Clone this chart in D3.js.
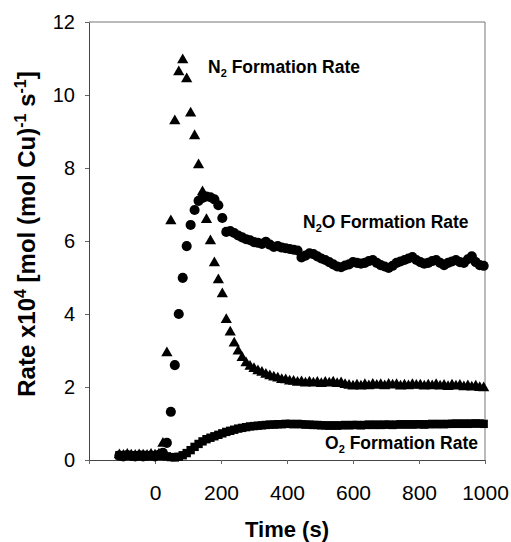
<!DOCTYPE html>
<html>
<head>
<meta charset="utf-8">
<script src="https://cdn.jsdelivr.net/npm/d3@7"></script>
<style>
  body { margin: 0; background: #fff; }
  text { font-family: "Liberation Sans", Arial, sans-serif; fill: #000; }
</style>
</head>
<body>
<div id="chart"></div>
<script>
// sample times (s), shared by the three series
const times = [-108, -96, -84, -72, -60, -48, -36, -24, -12, 0, 12, 24, 36, 48, 60, 72, 84, 96, 108, 120,
    132, 144, 156, 168, 180, 192, 204, 216, 228, 240, 252, 264, 276, 288, 300, 312, 324, 336, 348, 360,
    372, 384, 396, 408, 420, 432, 444, 456, 468, 480, 492, 504, 516, 528, 540, 552, 564, 576, 588, 600,
    612, 624, 636, 648, 660, 672, 684, 696, 708, 720, 732, 744, 756, 768, 780, 792, 804, 816, 828, 840,
    852, 864, 876, 888, 900, 912, 924, 936, 948, 960, 972, 984, 996];

// N2 formation rate (triangles)
const n2Rate = [0.14, 0.12, 0.15, 0.13, 0.12, 0.14, 0.13, 0.12, 0.15, 0.13, 0.16, 0.45, 2.93, 6.55, 9.29, 10.63, 10.96, 10.44, 9.5, 8.88,
    8.08, 7.34, 6.58, 6.0, 5.4, 4.93, 4.55, 3.84, 3.5, 3.2, 2.98, 2.8, 2.66, 2.56, 2.5, 2.44, 2.4, 2.34, 2.3, 2.27,
    2.24, 2.2, 2.19, 2.16, 2.15, 2.12, 2.14, 2.1, 2.13, 2.1, 2.12, 2.09, 2.12, 2.1, 2.13, 2.09, 2.11, 2.06, 2.04, 2.02,
    2.05, 2.02, 2.06, 2.03, 2.07, 2.04, 2.06, 2.03, 2.07, 2.05, 2.06, 2.02, 2.05, 2.03, 2.06, 2.04, 2.05, 2.02, 2.05, 2.03,
    2.06, 2.02, 2.04, 2.01, 2.05, 2.02, 2.04, 2.0, 2.03, 1.99, 2.02, 1.98, 1.97];

// N2O formation rate (circles)
const n2oRate = [0.12, 0.1, 0.13, 0.11, 0.1, 0.12, 0.1, 0.11, 0.12, 0.1, 0.14, 0.2, 0.47, 1.32, 2.6, 4.0, 4.99, 5.86, 6.44, 6.85,
    7.1, 7.18, 7.22, 7.2, 7.14, 6.98, 6.63, 6.25, 6.27, 6.22, 6.15, 6.1, 6.05, 6.02, 5.97, 5.95, 5.92, 5.98, 5.9, 5.84,
    5.86, 5.82, 5.8, 5.78, 5.76, 5.74, 5.55, 5.6, 5.66, 5.64, 5.58, 5.52, 5.48, 5.42, 5.36, 5.3, 5.28, 5.33, 5.36, 5.42,
    5.4, 5.38, 5.4, 5.45, 5.48, 5.4, 5.34, 5.3, 5.26, 5.32, 5.4, 5.44, 5.48, 5.52, 5.56, 5.48, 5.42, 5.38, 5.4, 5.45,
    5.48, 5.4, 5.34, 5.4, 5.44, 5.48, 5.42, 5.4, 5.5, 5.58, 5.42, 5.34, 5.32];

// O2 formation rate (squares)
const o2Rate = [0.13, 0.12, 0.14, 0.12, 0.13, 0.12, 0.14, 0.13, 0.12, 0.13, 0.12, 0.11, 0.1, 0.08, 0.07, 0.09, 0.13, 0.19, 0.27, 0.36,
    0.44, 0.51, 0.57, 0.61, 0.65, 0.69, 0.73, 0.77, 0.8, 0.83, 0.86, 0.88, 0.9, 0.92, 0.93, 0.94, 0.95, 0.96, 0.97, 0.97,
    0.98, 0.98, 0.99, 0.99, 0.98, 0.99, 0.98, 0.97, 0.97, 0.96, 0.96, 0.95, 0.95, 0.94, 0.95, 0.94, 0.95, 0.96, 0.95, 0.96,
    0.96, 0.95, 0.96, 0.97, 0.96, 0.97, 0.96, 0.97, 0.97, 0.96, 0.97, 0.98, 0.97, 0.98, 0.97, 0.98, 0.98, 0.97, 0.98, 0.99,
    0.98, 0.99, 0.98, 0.99, 0.99, 1.0, 0.99, 1.0, 0.99, 1.0, 1.0, 1.0, 0.99];

const xTicks = [-200, 0, 200, 400, 600, 800, 1000];
const yTicks = [0, 2, 4, 6, 8, 10, 12];

const width = 511, height = 542;
const plot = {left: 89, right: 485, top: 22, bottom: 460};

const svg = d3.select("#chart").append("svg")
    .attr("width", width)
    .attr("height", height);

const x = d3.scaleLinear().domain([-200, 1000]).range([plot.left, plot.right]);
const y = d3.scaleLinear().domain([0, 12]).range([plot.bottom, plot.top]);

// plot frame (top and right)
svg.append("path")
    .attr("d", `M${plot.left},${plot.top}H${plot.right}V${plot.bottom}`)
    .attr("fill", "none")
    .attr("stroke", "#777")
    .attr("stroke-width", 1);

// axes
const xAxis = svg.append("g")
    .attr("transform", `translate(0,${plot.bottom})`)
    .call(d3.axisBottom(x).tickValues(xTicks).tickSize(4).tickSizeOuter(0)
        .tickFormat(d => d < 0 ? "" : d));
xAxis.selectAll("text").attr("y", 25).style("font-size", "21px");

const yAxis = svg.append("g")
    .attr("transform", `translate(${plot.left},0)`)
    .call(d3.axisLeft(y).tickValues(yTicks).tickSize(4).tickSizeOuter(0).tickPadding(10));
yAxis.selectAll("text").style("font-size", "20px");

svg.selectAll(".domain").attr("stroke", "#444");
svg.selectAll(".tick line").attr("stroke", "#666");

// series
const pts = (vals) => times.map((t, i) => ({t: t, v: vals[i]}));

svg.append("g").selectAll("path")
    .data(pts(o2Rate))
    .enter().append("path")
    .attr("d", d3.symbol().type(d3.symbolSquare).size(70))
    .attr("transform", d => `translate(${x(d.t)},${y(d.v)})`)
    .attr("fill", "#000");

svg.append("g").selectAll("path")
    .data(pts(n2oRate))
    .enter().append("path")
    .attr("d", d3.symbol().type(d3.symbolCircle).size(80))
    .attr("transform", d => `translate(${x(d.t)},${y(d.v)})`)
    .attr("fill", "#000");

svg.append("g").selectAll("path")
    .data(pts(n2Rate))
    .enter().append("path")
    .attr("d", d3.symbol().type(d3.symbolTriangle).size(55))
    .attr("transform", d => `translate(${x(d.t)},${y(d.v)})`)
    .attr("fill", "#000");

// annotations
function label(xp, yp, parts, anchor) {
    const t = svg.append("text")
        .attr("x", xp).attr("y", yp)
        .attr("text-anchor", anchor || "start")
        .style("font-size", "17.5px")
        .style("font-weight", "bold");
    parts.forEach(p => {
        const s = t.append("tspan").text(p.s);
        if (p.sub) s.attr("dy", 4).style("font-size", "11px");
        if (p.back) s.attr("dy", -4);
    });
}
label(208, 73, [{s: "N"}, {s: "2", sub: true}, {s: " Formation Rate", back: true}]);
label(303, 228, [{s: "N"}, {s: "2", sub: true}, {s: "O Formation Rate", back: true}]);
label(478, 449, [{s: "O"}, {s: "2", sub: true}, {s: " Formation Rate", back: true}], "end");

// axis titles
svg.append("text")
    .attr("x", (plot.left + plot.right) / 2)
    .attr("y", 537)
    .attr("text-anchor", "middle")
    .style("font-size", "22px")
    .style("font-weight", "bold")
    .text("Time (s)");

const yt = svg.append("text")
    .attr("transform", "translate(35,234) rotate(-90)")
    .attr("text-anchor", "middle")
    .style("font-size", "24px")
    .style("font-weight", "bold");
yt.append("tspan").text("Rate x10");
yt.append("tspan").text("4").attr("dy", -9).style("font-size", "16px");
yt.append("tspan").text(" [mol (mol Cu)").attr("dy", 9);
yt.append("tspan").text("-1").attr("dy", -9).style("font-size", "16px");
yt.append("tspan").text(" s").attr("dy", 9);
yt.append("tspan").text("-1").attr("dy", -9).style("font-size", "16px");
yt.append("tspan").text("]").attr("dy", 9);
</script>
</body>
</html>
